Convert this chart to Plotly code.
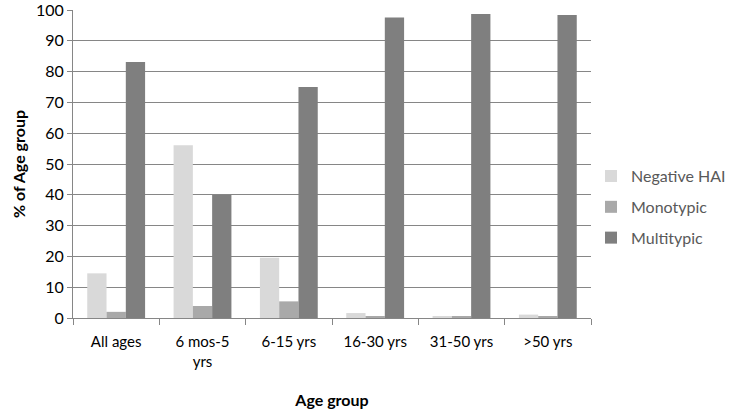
import plotly.graph_objects as go

age_groups = ["All ages", "6 mos-5<br>yrs", "6-15 yrs", "16-30 yrs", "31-50 yrs", ">50 yrs"]
negative_hai = [14.5, 56.1, 19.6, 1.6, 0.4, 1.1]
monotypic = [2.0, 3.9, 5.4, 0.4, 0.5, 0.4]
multitypic = [83.1, 39.9, 75.0, 97.6, 98.7, 98.4]

_COLORS = {"Negative HAI": "#d9d9d9", "Monotypic": "#a9a9a9", "Multitypic": "#7f7f7f"}
FONT = "Lato, Carlito, Calibri, sans-serif"

fig = go.Figure()
for name, vals in [("Negative HAI", negative_hai), ("Monotypic", monotypic), ("Multitypic", multitypic)]:
    fig.add_trace(go.Bar(x=age_groups, y=vals, name=name, legendgroup=name,
                         marker=dict(color=_COLORS[name], line=dict(width=0))))

fig.update_layout(
    width=741, height=409,
    barmode="group", bargap=0.33, bargroupgap=0,
    plot_bgcolor="white", paper_bgcolor="white",
    margin=dict(l=73, r=144, t=10, b=91),
    font=dict(family=FONT, size=15, color="#000000"),
    legend=dict(x=1.0, y=0.36, yanchor="middle", xanchor="left",
                font=dict(size=16, color="#595959"), tracegroupgap=7,
                itemwidth=30),
    xaxis=dict(
        title=dict(text="<b>Age group</b>", font=dict(size=16), standoff=30),
        automargin=False,
        showline=True, linecolor="#868686", linewidth=1,
        ticks="outside", tickson="boundaries", ticklen=6, tickcolor="#868686",
        tickfont=dict(size=15), ticklabelstandoff=10,
    ),
    yaxis=dict(
        title=dict(text="<b>% of Age group</b>", font=dict(size=16), standoff=6),
        automargin=False,
        range=[0, 100], dtick=10, ticklabeloverflow="allow",
        showgrid=True, gridcolor="#868686", gridwidth=1,
        showline=True, linecolor="#868686", linewidth=1,
        ticks="outside", ticklen=5, tickcolor="#868686",
        tickfont=dict(size=16),
        zeroline=False,
    ),
)

# drop the browser's default 8px body margin so the figure sits at (0, 0)
fig.write_html("out.html", config={"displayModeBar": False},
               post_script="document.body.style.margin='0';")
